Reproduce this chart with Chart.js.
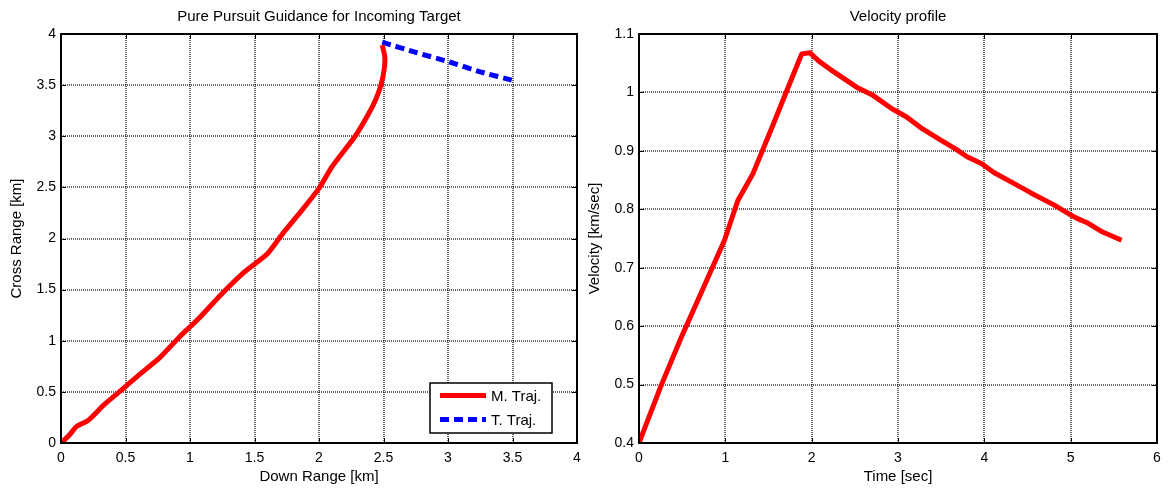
<!DOCTYPE html>
<html>
<head>
<meta charset="utf-8">
<script src="https://cdn.jsdelivr.net/npm/chart.js@4.4.1/dist/chart.umd.min.js"></script>
<style>
  html, body { margin: 0; padding: 0; background: #fff; }
  body { width: 1169px; height: 491px; position: relative; overflow: hidden; }
  .panel { position: absolute; top: 0; }
  #left { left: 0; }
  #right { left: 580px; }
</style>
</head>
<body>
<div class="panel" id="left"><canvas id="traj" width="600" height="491"></canvas></div>
<div class="panel" id="right"><canvas id="vel" width="589" height="491"></canvas></div>
<script>
// Missile trajectory (down range / cross range, km)
const missileDown  = [0, 0.06, 0.12, 0.21, 0.33, 0.47, 0.59, 0.77, 0.92, 1.07, 1.24, 1.42, 1.60, 1.72, 1.87, 2.00, 2.10, 2.28, 2.38, 2.44, 2.48, 2.505, 2.51, 2.49];
const missileCross = [0, 0.07, 0.16, 0.22, 0.37, 0.52, 0.65, 0.84, 1.04, 1.22, 1.45, 1.67, 1.85, 2.05, 2.28, 2.49, 2.70, 3.00, 3.21, 3.36, 3.50, 3.65, 3.78, 3.89];

// Target trajectory (km)
const targetDown  = [2.49, 2.75, 3.00, 3.25, 3.52];
const targetCross = [3.92, 3.82, 3.73, 3.63, 3.54];

// Missile velocity profile
const timeSec  = [0, 0.25, 0.49, 0.75, 0.99, 1.145, 1.32, 1.54, 1.75, 1.885, 1.98, 2.08, 2.21, 2.52, 2.71, 2.93, 3.10, 3.28, 3.50, 3.67, 3.80, 3.97, 4.11, 4.32, 4.54, 4.80, 4.98, 5.08, 5.19, 5.37, 5.59];
const velocity = [0.40, 0.496, 0.581, 0.667, 0.747, 0.815, 0.861, 0.940, 1.017, 1.066, 1.068, 1.054, 1.040, 1.009, 0.995, 0.972, 0.958, 0.938, 0.918, 0.903, 0.890, 0.878, 0.863, 0.846, 0.828, 0.808, 0.792, 0.784, 0.777, 0.761, 0.747];

const trajTicks = [0, 0.5, 1, 1.5, 2, 2.5, 3, 3.5, 4];
const timeTicks = [0, 1, 2, 3, 4, 5, 6];
const velTicks  = [0.4, 0.5, 0.6, 0.7, 0.8, 0.9, 1, 1.1];

const FONT = "'Liberation Sans', Arial, Helvetica, sans-serif";

function pairs(xs, ys) { return xs.map((x, i) => ({ x: x, y: ys[i] })); }

// Closed box with inward tick marks on all four sides
const boxPlugin = {
  id: 'box',
  afterDraw(chart) {
    const { ctx, chartArea: a, scales } = chart;
    ctx.save();
    ctx.strokeStyle = '#000';
    ctx.lineWidth = 1;
    const tl = 5;
    scales.x.ticks.forEach(t => {
      const px = Math.round(scales.x.getPixelForValue(t.value)) + 0.5;
      ctx.beginPath();
      ctx.moveTo(px, a.bottom); ctx.lineTo(px, a.bottom - tl);
      ctx.moveTo(px, a.top); ctx.lineTo(px, a.top + tl);
      ctx.stroke();
    });
    scales.y.ticks.forEach(t => {
      const py = Math.round(scales.y.getPixelForValue(t.value)) + 0.5;
      ctx.beginPath();
      ctx.moveTo(a.left, py); ctx.lineTo(a.left + tl, py);
      ctx.moveTo(a.right, py); ctx.lineTo(a.right - tl, py);
      ctx.stroke();
    });
    ctx.lineWidth = 2;
    ctx.strokeRect(a.left, a.top, a.right - a.left, a.bottom - a.top);
    ctx.restore();
  }
};

// Legend box placed inside the lower right corner of the plot
const insetLegend = {
  id: 'insetLegend',
  afterDraw(chart) {
    const { ctx, chartArea: a } = chart;
    const w = 122, h = 50;
    const x0 = a.right - 25 - w, y0 = a.bottom - 10 - h;
    ctx.save();
    ctx.fillStyle = '#fff';
    ctx.fillRect(x0, y0, w, h);
    ctx.strokeStyle = '#000';
    ctx.lineWidth = 1.5;
    ctx.strokeRect(x0, y0, w, h);
    chart.data.datasets.forEach((ds, i) => {
      const y = y0 + 12.5 + i * 24;
      ctx.beginPath();
      ctx.strokeStyle = ds.borderColor;
      ctx.lineWidth = ds.borderWidth;
      ctx.setLineDash(ds.borderDash || []);
      ctx.moveTo(x0 + 10, y); ctx.lineTo(x0 + 56, y);
      ctx.stroke();
      ctx.setLineDash([]);
      ctx.fillStyle = '#000';
      ctx.font = '15px ' + FONT;
      ctx.textBaseline = 'middle';
      ctx.textAlign = 'left';
      ctx.fillText(ds.label, x0 + 61, y + 1);
    });
    ctx.restore();
  }
};

function axis(opts) {
  return {
    type: 'linear',
    min: opts.min, max: opts.max,
    afterBuildTicks(scale) { scale.ticks = opts.ticks.map(v => ({ value: v })); },
    afterFit(scale) {
      if (opts.width !== undefined) scale.width = opts.width;
      if (opts.height !== undefined) scale.height = opts.height;
    },
    grid: { color: 'rgba(0,0,0,0.6)', lineWidth: 2, drawTicks: false },
    border: { display: false, dash: [1, 1] },
    ticks: {
      color: '#000', font: { size: 14, family: FONT }, padding: opts.tickPad,
      maxRotation: 0, autoSkip: false,
      callback: v => String(Number(v.toFixed(2)))
    },
    title: {
      display: true, text: opts.title, color: '#000',
      font: { size: 15, family: FONT }, padding: opts.titlePad
    }
  };
}

function titleOpts(text) {
  return {
    display: true, text: text, color: '#000', fullSize: false,
    font: { size: 15, weight: 'normal', family: FONT },
    padding: { top: 8, bottom: 8 }
  };
}

new Chart(document.getElementById('traj'), {
  type: 'line',
  data: {
    datasets: [
      { label: 'M. Traj.', data: pairs(missileDown, missileCross), borderColor: '#ff0000', borderWidth: 5,
        pointRadius: 0, tension: 0.2, borderJoinStyle: 'round', borderCapStyle: 'butt' },
      { label: 'T. Traj.', data: pairs(targetDown, targetCross), borderColor: '#0000ff', borderWidth: 5,
        borderDash: [9, 5], pointRadius: 0, tension: 0.2, borderCapStyle: 'butt' }
    ]
  },
  options: {
    responsive: false, animation: false,
    layout: { padding: { left: 0, right: 23, top: 0, bottom: 0 } },
    plugins: { legend: { display: false }, tooltip: { enabled: false }, title: titleOpts('Pure Pursuit Guidance for Incoming Target') },
    scales: {
      x: axis({ min: 0, max: 4, ticks: trajTicks, height: 48, tickPad: 7, title: 'Down Range [km]', titlePad: { top: 0, bottom: 5 } }),
      y: axis({ min: 0, max: 4, ticks: trajTicks, width: 61, tickPad: 5, title: 'Cross Range [km]', titlePad: { top: 8, bottom: 0 } })
    }
  },
  plugins: [boxPlugin, insetLegend]
});

new Chart(document.getElementById('vel'), {
  type: 'line',
  data: {
    datasets: [
      { label: 'Velocity', data: pairs(timeSec, velocity), borderColor: '#ff0000', borderWidth: 5,
        pointRadius: 0, tension: 0, borderJoinStyle: 'round', borderCapStyle: 'butt' }
    ]
  },
  options: {
    responsive: false, animation: false,
    layout: { padding: { left: 0, right: 12, top: 0, bottom: 0 } },
    plugins: { legend: { display: false }, tooltip: { enabled: false }, title: titleOpts('Velocity profile') },
    scales: {
      x: axis({ min: 0, max: 6, ticks: timeTicks, height: 48, tickPad: 7, title: 'Time [sec]', titlePad: { top: 0, bottom: 5 } }),
      y: axis({ min: 0.4, max: 1.1, ticks: velTicks, width: 59, tickPad: 5, title: 'Velocity [km/sec]', titlePad: { top: 6, bottom: 0 } })
    }
  },
  plugins: [boxPlugin]
});
</script>
</body>
</html>
